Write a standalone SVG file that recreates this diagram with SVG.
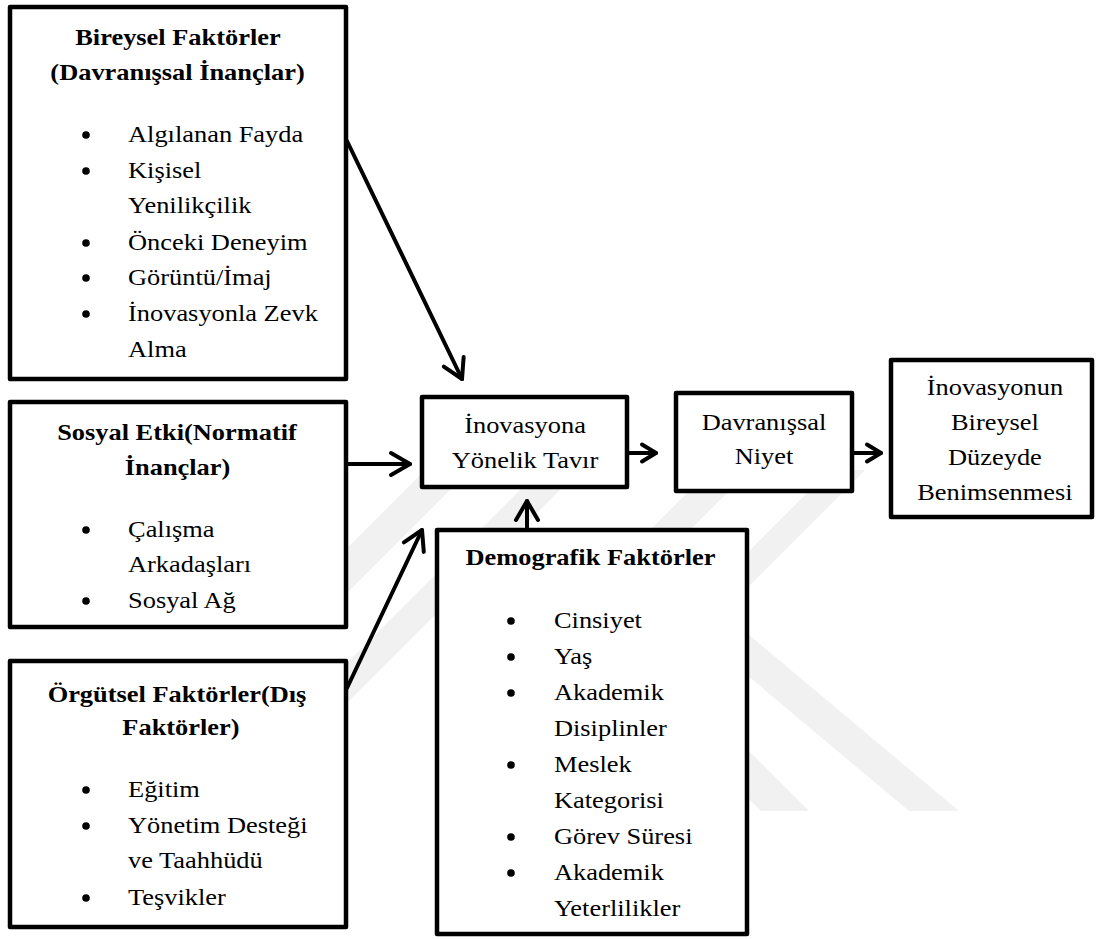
<svg xmlns="http://www.w3.org/2000/svg" width="1096" height="939" viewBox="0 0 1096 939" font-family="'Liberation Serif', 'DejaVu Serif', serif">
  <style>
    .box { fill: #ffffff; stroke: #000000; stroke-width: 4.5; stroke-linejoin: round; }
    .wm { fill: #f1f1f1; }
    .conn { fill: none; stroke: #000000; stroke-width: 4; stroke-linecap: round; }
    .lbl { font-family: 'Liberation Serif', 'DejaVu Serif', serif; font-size: 24px; fill: #000000; }
    .title { font-weight: bold; text-anchor: middle; }
    .mid { text-anchor: middle; }
    .bullet { fill: #000000; }
  </style>
  <defs>
    <marker id="head" markerUnits="userSpaceOnUse" viewBox="-24 -14 28 28" refX="0" refY="0" markerWidth="28" markerHeight="28" orient="auto">
      <polyline points="-19,-11 0,0 -19,11" fill="none" stroke="#000000" stroke-width="4" stroke-linecap="round" stroke-linejoin="round"/>
    </marker>
    <marker id="headSmall" markerUnits="userSpaceOnUse" viewBox="-20 -12 24 24" refX="0" refY="0" markerWidth="24" markerHeight="24" orient="auto">
      <polyline points="-14,-8.5 0,0 -14,8.5" fill="none" stroke="#000000" stroke-width="4" stroke-linecap="round" stroke-linejoin="round"/>
    </marker>
    <circle id="dot" r="3.8" class="bullet"/>
  </defs>

  <rect x="0" y="0" width="1096" height="939" fill="#ffffff"/>

  <!-- faint background emblem bands -->
  <g id="emblem">
    <polygon class="wm" points="574,530 624,530 959,811 909,811"/>
    <polygon class="wm" points="550,600 598,600 809,811 761,811"/>
    <polygon class="wm" points="425,470 470,470 320,620 275,620"/>
    <polygon class="wm" points="540,470 580,470 330,720 290,720"/>
    <polygon class="wm" points="720,460 760,460 520,700 480,700"/>
    <polygon class="wm" points="830,470 865,470 620,715 585,715"/>
  </g>

  <!-- connectors -->
  <g id="connectors">
    <line class="conn" x1="347" y1="141" x2="462" y2="379" marker-end="url(#head)"/>
    <line class="conn" x1="348" y1="464" x2="410" y2="464" marker-end="url(#head)"/>
    <line class="conn" x1="347" y1="688" x2="422" y2="530" marker-end="url(#head)"/>
    <line class="conn" x1="527" y1="528" x2="527" y2="501" marker-end="url(#head)"/>
    <line class="conn" x1="629" y1="453" x2="656" y2="453" marker-end="url(#headSmall)"/>
    <line class="conn" x1="854" y1="453" x2="881" y2="453" marker-end="url(#headSmall)"/>
  </g>

  <!-- Bireysel Faktörler -->
  <g id="bireysel">
    <rect class="box" x="10" y="7" width="336" height="372"/>
    <use href="#dot" x="86" y="135"/>
    <use href="#dot" x="86" y="171"/>
    <use href="#dot" x="86" y="243"/>
    <use href="#dot" x="86" y="278"/>
    <use href="#dot" x="86" y="314"/>
    <g transform="scale(1.1 1)" class="lbl">
      <text class="lbl title" x="161.8" y="45">Bireysel Faktörler</text>
      <text class="lbl title" x="161.4" y="80">(Davranışsal İnançlar)</text>
      <text class="lbl" x="116.4" y="142">Algılanan Fayda</text>
      <text class="lbl" x="116.4" y="178">Kişisel</text>
      <text class="lbl" x="116.4" y="213">Yenilikçilik</text>
      <text class="lbl" x="116.4" y="250">Önceki Deneyim</text>
      <text class="lbl" x="116.4" y="285">Görüntü/İmaj</text>
      <text class="lbl" x="116.4" y="321">İnovasyonla Zevk</text>
      <text class="lbl" x="116.4" y="357">Alma</text>
    </g>
  </g>

  <!-- Sosyal Etki -->
  <g id="sosyal">
    <rect class="box" x="10" y="402" width="336" height="225"/>
    <use href="#dot" x="86" y="530"/>
    <use href="#dot" x="86" y="601"/>
    <g transform="scale(1.1 1)" class="lbl">
      <text class="lbl title" x="160.9" y="440">Sosyal Etki(Normatif</text>
      <text class="lbl title" x="161.4" y="475">İnançlar)</text>
      <text class="lbl" x="116.4" y="537">Çalışma</text>
      <text class="lbl" x="116.4" y="572">Arkadaşları</text>
      <text class="lbl" x="116.4" y="608">Sosyal Ağ</text>
    </g>
  </g>

  <!-- Örgütsel Faktörler -->
  <g id="orgutsel">
    <rect class="box" x="10" y="661" width="336" height="266"/>
    <use href="#dot" x="86" y="790"/>
    <use href="#dot" x="86" y="826"/>
    <use href="#dot" x="86" y="898"/>
    <g transform="scale(1.1 1)" class="lbl">
      <text class="lbl title" x="160.9" y="702">Örgütsel Faktörler(Dış</text>
      <text class="lbl title" x="164.5" y="735">Faktörler)</text>
      <text class="lbl" x="116.4" y="797">Eğitim</text>
      <text class="lbl" x="116.4" y="833">Yönetim Desteği</text>
      <text class="lbl" x="116.4" y="868">ve Taahhüdü</text>
      <text class="lbl" x="116.4" y="905">Teşvikler</text>
    </g>
  </g>

  <!-- İnovasyona Yönelik Tavır -->
  <g id="tavir">
    <rect class="box" x="422" y="397" width="205" height="90"/>
    <g transform="scale(1.1 1)" class="lbl">
      <text class="lbl mid" x="477.3" y="433">İnovasyona</text>
      <text class="lbl mid" x="477.3" y="468">Yönelik Tavır</text>
    </g>
  </g>

  <!-- Davranışsal Niyet -->
  <g id="niyet">
    <rect class="box" x="676" y="393" width="176" height="98"/>
    <g transform="scale(1.1 1)" class="lbl">
      <text class="lbl mid" x="694.5" y="430">Davranışsal</text>
      <text class="lbl mid" x="694.5" y="464">Niyet</text>
    </g>
  </g>

  <!-- İnovasyonun Bireysel Düzeyde Benimsenmesi -->
  <g id="benimseme">
    <rect class="box" x="891" y="360" width="201" height="157"/>
    <g transform="scale(1.1 1)" class="lbl">
      <text class="lbl mid" x="904.5" y="395">İnovasyonun</text>
      <text class="lbl mid" x="904.5" y="430">Bireysel</text>
      <text class="lbl mid" x="904.5" y="465">Düzeyde</text>
      <text class="lbl mid" x="904.5" y="500">Benimsenmesi</text>
    </g>
  </g>

  <!-- Demografik Faktörler -->
  <g id="demografik">
    <rect class="box" x="437" y="530" width="310" height="404"/>
    <use href="#dot" x="511" y="621"/>
    <use href="#dot" x="511" y="657"/>
    <use href="#dot" x="511" y="693"/>
    <use href="#dot" x="511" y="765"/>
    <use href="#dot" x="511" y="837"/>
    <use href="#dot" x="511" y="873"/>
    <g transform="scale(1.1 1)" class="lbl">
      <text class="lbl title" x="536.8" y="565">Demografik Faktörler</text>
      <text class="lbl" x="503.6" y="628">Cinsiyet</text>
      <text class="lbl" x="503.6" y="664">Yaş</text>
      <text class="lbl" x="503.6" y="700">Akademik</text>
      <text class="lbl" x="503.6" y="736">Disiplinler</text>
      <text class="lbl" x="503.6" y="772">Meslek</text>
      <text class="lbl" x="503.6" y="808">Kategorisi</text>
      <text class="lbl" x="503.6" y="844">Görev Süresi</text>
      <text class="lbl" x="503.6" y="880">Akademik</text>
      <text class="lbl" x="503.6" y="916">Yeterlilikler</text>
    </g>
  </g>
</svg>
